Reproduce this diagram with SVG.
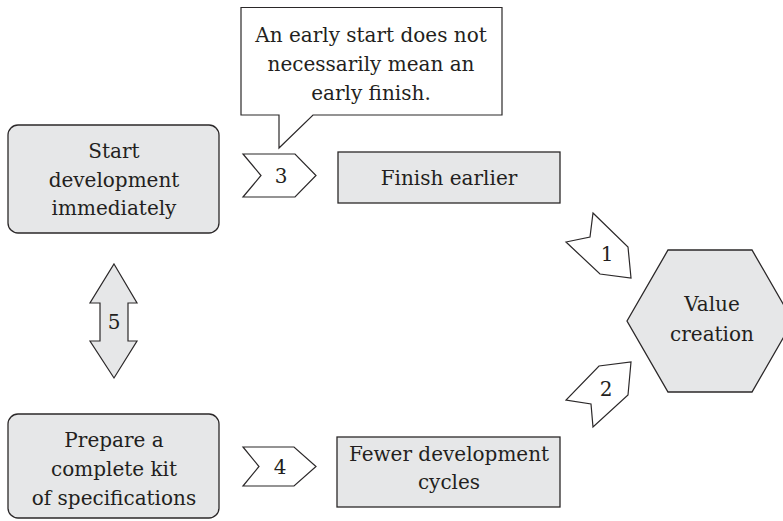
<svg xmlns="http://www.w3.org/2000/svg" width="783" height="521" viewBox="0 0 783 521">
  <style>
    .box { fill: #e6e7e8; stroke: #2b2829; stroke-width: 1.3; }
    .arrow { fill: #ffffff; stroke: #2b2829; stroke-width: 1.2; stroke-linejoin: miter; }
    .garrow { fill: #e6e7e8; stroke: #2b2829; stroke-width: 1.2; }
    .note { fill: #ffffff; stroke: #2b2829; stroke-width: 1.2; }
    .t { font-family: "DejaVu Serif", serif; font-size: 20px; fill: #231f20; text-anchor: middle; }
  </style>
  <rect width="783" height="521" fill="#ffffff"/>

  <!-- callout -->
  <g id="callout">
    <path class="note" d="M241 7.5 H502 V115 H313 L279 148 V115 H241 Z"/>
    <text class="t" x="371" y="42">An early start does not</text>
    <text class="t" x="371" y="71">necessarily mean an</text>
    <text class="t" x="371" y="100">early finish.</text>
  </g>

  <g id="start">
    <rect class="box" x="8" y="125" width="211" height="108" rx="10"/>
    <text class="t" x="114" y="158">Start</text>
    <text class="t" x="114" y="187">development</text>
    <text class="t" x="114" y="215">immediately</text>
  </g>

  <g id="finish">
    <rect class="box" x="338" y="152" width="222" height="51"/>
    <text class="t" x="449" y="185">Finish earlier</text>
  </g>

  <g id="prepare">
    <rect class="box" x="8" y="414" width="211" height="104" rx="10"/>
    <text class="t" x="114" y="447">Prepare a</text>
    <text class="t" x="114" y="476">complete kit</text>
    <text class="t" x="114" y="505">of specifications</text>
  </g>

  <g id="fewer">
    <rect class="box" x="337" y="437" width="223" height="70"/>
    <text class="t" x="449" y="461">Fewer development</text>
    <text class="t" x="449" y="489">cycles</text>
  </g>

  <g id="value">
    <polygon class="box" points="627,321 668,250 752,250 793,321 752,392 668,392"/>
    <text class="t" x="712" y="311">Value</text>
    <text class="t" x="712" y="341">creation</text>
  </g>

  <!-- connectors -->
  <g id="connectors">
    <g id="c3">
      <polygon class="arrow" points="243,154 295,154 316,175.5 295,197 243,197 261,175.5"/>
      <text class="t" x="281" y="183">3</text>
    </g>
    <g id="c4">
      <polygon class="arrow" points="243,447 294,447 316,466.5 294,486 243,486 259,466.5"/>
      <text class="t" x="280" y="474">4</text>
    </g>
    <g id="c1">
      <polygon class="arrow" points="593,213 628,247 631,278 600,274 566,242 590,237"/>
      <text class="t" x="607" y="261">1</text>
    </g>
    <g id="c2">
      <polygon class="arrow" points="631,362 628,395 593,427 591,404 566,400 599,366"/>
      <text class="t" x="606" y="396">2</text>
    </g>
    <g id="c5">
      <polygon class="garrow" points="114,264 137,303 128,303 128,341 137,341 114,378 90,341 100,341 100,303 90,303"/>
      <text class="t" x="114" y="329">5</text>
    </g>
  </g>
</svg>
